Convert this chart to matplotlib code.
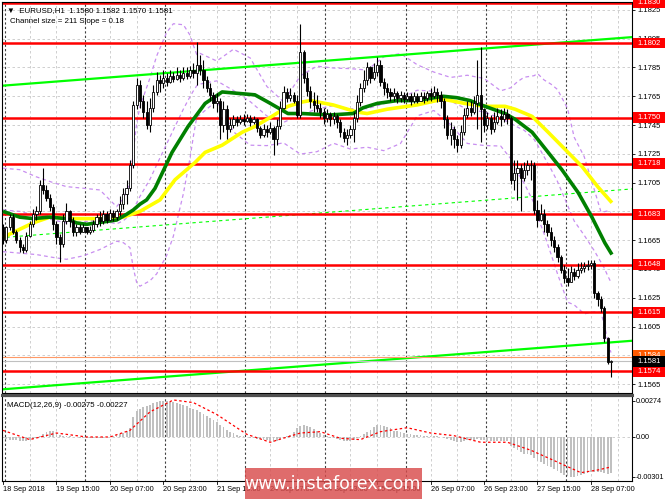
import matplotlib
matplotlib.use('Agg')
import matplotlib.pyplot as plt
import matplotlib.transforms as mtransforms
from matplotlib.patches import Rectangle
from matplotlib.lines import Line2D

plt.rcParams['font.family'] = ['Liberation Sans', 'DejaVu Sans']

# ---------------- data (EURUSD H1) ----------------
opens = [
    1.1674, 1.1665, 1.1674, 1.1681, 1.1671, 1.1665, 1.1660, 1.1658, 1.1668, 1.1676,
    1.1683, 1.1685, 1.1703, 1.1700, 1.1694, 1.1688, 1.1676, 1.1667, 1.1662, 1.1678,
    1.1685, 1.1678, 1.1671, 1.1674, 1.1671, 1.1674, 1.1671, 1.1672, 1.1676, 1.1681,
    1.1678, 1.1683, 1.1679, 1.1684, 1.1681, 1.1685, 1.1690, 1.1697, 1.1701, 1.1717,
    1.1759, 1.1773, 1.1762, 1.1754, 1.1745, 1.1757, 1.1768, 1.1776, 1.1774, 1.1778,
    1.1775, 1.1779, 1.1777, 1.1780, 1.1778, 1.1781, 1.1779, 1.1783, 1.1781, 1.1787,
    1.1783, 1.1776, 1.1771, 1.1766, 1.1760, 1.1762, 1.1745, 1.1756, 1.1742, 1.1745,
    1.1749, 1.1747, 1.1749, 1.1748, 1.1750, 1.1747, 1.1749, 1.1743, 1.1738, 1.1742,
    1.1740, 1.1743, 1.1735, 1.1744, 1.1757, 1.1768, 1.1764, 1.1766, 1.1762, 1.1752,
    1.1796, 1.1778, 1.1769, 1.1762, 1.1759, 1.1757, 1.1754, 1.1750, 1.1753, 1.1749,
    1.1751, 1.1747, 1.1740, 1.1736, 1.1738, 1.1742, 1.1750, 1.1761, 1.1771, 1.1776,
    1.1785, 1.1778, 1.1782, 1.1787, 1.1775, 1.1771, 1.1768, 1.1765, 1.1767, 1.1764,
    1.1766, 1.1763, 1.1765, 1.1762, 1.1765, 1.1762, 1.1765, 1.1764, 1.1767, 1.1765,
    1.1768, 1.1766, 1.1762, 1.1749, 1.1738, 1.1742, 1.1735, 1.1731, 1.1740, 1.1752,
    1.1757, 1.1754, 1.1760, 1.1766, 1.1756, 1.1745, 1.1750, 1.1742, 1.1747, 1.1751,
    1.1749, 1.1753, 1.1750, 1.1707, 1.1712, 1.1715, 1.1708, 1.1714, 1.1717, 1.1717,
    1.1686, 1.1679, 1.1683, 1.1676, 1.1671, 1.1665, 1.1660, 1.1653, 1.1644, 1.1639,
    1.1636, 1.1643, 1.1640, 1.1644, 1.1646, 1.1647, 1.1648, 1.1649, 1.1628, 1.1624,
    1.1618, 1.1597, 1.1580]
highs = [
    1.1676, 1.1675, 1.1683, 1.1683, 1.1672, 1.1667, 1.1662, 1.1671, 1.1678, 1.1687,
    1.1689, 1.1707, 1.1715, 1.1703, 1.1697, 1.1690, 1.1678, 1.1669, 1.1683, 1.1691,
    1.1686, 1.1681, 1.1676, 1.1676, 1.1676, 1.1674, 1.1675, 1.1679, 1.1683, 1.1685,
    1.1686, 1.1685, 1.1687, 1.1686, 1.1687, 1.1696, 1.1701, 1.1707, 1.1721, 1.1762,
    1.1778, 1.1776, 1.1766, 1.1762, 1.1764, 1.1773, 1.1782, 1.1780, 1.1783, 1.1781,
    1.1783, 1.1782, 1.1785, 1.1783, 1.1785, 1.1785, 1.1786, 1.1788, 1.1803, 1.1794,
    1.1790, 1.1779, 1.1774, 1.1768, 1.1767, 1.1764, 1.1762, 1.1759, 1.1750, 1.1752,
    1.1751, 1.1752, 1.1753, 1.1753, 1.1752, 1.1751, 1.1750, 1.1744, 1.1746, 1.1745,
    1.1747, 1.1744, 1.1749, 1.1762, 1.1772, 1.1771, 1.1771, 1.1768, 1.1766, 1.1815,
    1.1797, 1.1782, 1.1772, 1.1768, 1.1766, 1.1760, 1.1757, 1.1756, 1.1754, 1.1754,
    1.1753, 1.1749, 1.1743, 1.1742, 1.1745, 1.1754, 1.1766, 1.1774, 1.1783, 1.1789,
    1.1786, 1.1788, 1.1792, 1.1790, 1.1778, 1.1774, 1.1771, 1.1771, 1.1769, 1.1769,
    1.1768, 1.1768, 1.1767, 1.1768, 1.1767, 1.1768, 1.1768, 1.1769, 1.1771, 1.1772,
    1.1771, 1.1769, 1.1764, 1.1752, 1.1747, 1.1744, 1.1738, 1.1745, 1.1757, 1.1762,
    1.1762, 1.1765, 1.1790, 1.1799, 1.1757, 1.1754, 1.1752, 1.1754, 1.1757, 1.1756,
    1.1757, 1.1756, 1.1751, 1.1721, 1.1721, 1.1718, 1.1719, 1.1721, 1.1721, 1.1719,
    1.1693, 1.1690, 1.1687, 1.1679, 1.1674, 1.1668, 1.1662, 1.1655, 1.1648, 1.1646,
    1.1647, 1.1646, 1.1649, 1.1650, 1.1650, 1.1651, 1.1651, 1.1651, 1.1630, 1.1626,
    1.1619, 1.1598, 1.1582]
lows = [
    1.1662, 1.1663, 1.1672, 1.1669, 1.1663, 1.1657, 1.1656, 1.1657, 1.1667, 1.1674,
    1.1679, 1.1683, 1.1697, 1.1692, 1.1685, 1.1672, 1.1662, 1.1650, 1.1660, 1.1676,
    1.1674, 1.1668, 1.1668, 1.1669, 1.1671, 1.1669, 1.1669, 1.1671, 1.1674, 1.1675,
    1.1676, 1.1677, 1.1678, 1.1678, 1.1679, 1.1682, 1.1687, 1.1690, 1.1699, 1.1715,
    1.1756, 1.1757, 1.1750, 1.1742, 1.1740, 1.1754, 1.1766, 1.1768, 1.1771, 1.1772,
    1.1774, 1.1775, 1.1776, 1.1775, 1.1776, 1.1777, 1.1778, 1.1778, 1.1773, 1.1780,
    1.1771, 1.1768, 1.1762, 1.1757, 1.1754, 1.1735, 1.1740, 1.1735, 1.1740, 1.1743,
    1.1744, 1.1746, 1.1745, 1.1747, 1.1744, 1.1746, 1.1740, 1.1736, 1.1737, 1.1737,
    1.1739, 1.1724, 1.1731, 1.1742, 1.1756, 1.1761, 1.1762, 1.1760, 1.1750, 1.1750,
    1.1774, 1.1765, 1.1757, 1.1754, 1.1754, 1.1750, 1.1746, 1.1747, 1.1744, 1.1746,
    1.1743, 1.1737, 1.1733, 1.1731, 1.1736, 1.1733, 1.1747, 1.1758, 1.1768, 1.1773,
    1.1774, 1.1776, 1.1779, 1.1772, 1.1766, 1.1764, 1.1762, 1.1762, 1.1760, 1.1761,
    1.1760, 1.1762, 1.1759, 1.1760, 1.1760, 1.1762, 1.1760, 1.1762, 1.1762, 1.1764,
    1.1761, 1.1757, 1.1743, 1.1735, 1.1731, 1.1729, 1.1726, 1.1729, 1.1738, 1.1750,
    1.1751, 1.1753, 1.1742, 1.1733, 1.1740, 1.1742, 1.1739, 1.1740, 1.1746, 1.1744,
    1.1747, 1.1746, 1.1704, 1.1700, 1.1693, 1.1685, 1.1706, 1.1710, 1.1707, 1.1683,
    1.1674, 1.1678, 1.1671, 1.1668, 1.1661, 1.1657, 1.1650, 1.1642, 1.1635, 1.1633,
    1.1636, 1.1637, 1.1639, 1.1642, 1.1643, 1.1644, 1.1645, 1.1625, 1.1619, 1.1615,
    1.1594, 1.1579, 1.1570]
closes = [
    1.1665, 1.1674, 1.1681, 1.1671, 1.1665, 1.1660, 1.1658, 1.1668, 1.1676, 1.1683,
    1.1685, 1.1703, 1.1700, 1.1694, 1.1688, 1.1676, 1.1667, 1.1662, 1.1678, 1.1685,
    1.1678, 1.1671, 1.1674, 1.1671, 1.1674, 1.1671, 1.1672, 1.1676, 1.1681, 1.1678,
    1.1683, 1.1679, 1.1684, 1.1681, 1.1685, 1.1690, 1.1697, 1.1701, 1.1717, 1.1759,
    1.1773, 1.1762, 1.1754, 1.1745, 1.1757, 1.1768, 1.1776, 1.1774, 1.1778, 1.1775,
    1.1779, 1.1777, 1.1780, 1.1778, 1.1781, 1.1779, 1.1783, 1.1781, 1.1787, 1.1783,
    1.1776, 1.1771, 1.1766, 1.1760, 1.1762, 1.1745, 1.1756, 1.1742, 1.1745, 1.1749,
    1.1747, 1.1749, 1.1748, 1.1750, 1.1747, 1.1749, 1.1743, 1.1738, 1.1742, 1.1740,
    1.1743, 1.1735, 1.1744, 1.1757, 1.1768, 1.1764, 1.1766, 1.1762, 1.1752, 1.1796,
    1.1778, 1.1769, 1.1762, 1.1759, 1.1757, 1.1754, 1.1750, 1.1753, 1.1749, 1.1751,
    1.1747, 1.1740, 1.1736, 1.1738, 1.1742, 1.1750, 1.1761, 1.1771, 1.1776, 1.1785,
    1.1778, 1.1782, 1.1787, 1.1775, 1.1771, 1.1768, 1.1765, 1.1767, 1.1764, 1.1766,
    1.1763, 1.1765, 1.1762, 1.1765, 1.1762, 1.1765, 1.1764, 1.1767, 1.1765, 1.1768,
    1.1766, 1.1762, 1.1749, 1.1738, 1.1742, 1.1735, 1.1731, 1.1740, 1.1752, 1.1757,
    1.1754, 1.1760, 1.1766, 1.1756, 1.1745, 1.1750, 1.1742, 1.1747, 1.1751, 1.1749,
    1.1753, 1.1750, 1.1707, 1.1712, 1.1715, 1.1708, 1.1714, 1.1717, 1.1717, 1.1686,
    1.1679, 1.1683, 1.1676, 1.1671, 1.1665, 1.1660, 1.1653, 1.1644, 1.1639, 1.1636,
    1.1643, 1.1640, 1.1644, 1.1646, 1.1647, 1.1648, 1.1649, 1.1628, 1.1624, 1.1618,
    1.1597, 1.1580, 1.1581]

# moving averages, bar index -> price
ma_fast_bars = [0, 5, 9, 14, 19, 22, 25, 28, 31, 34, 37, 39, 41, 43, 45.5, 50.6, 55.4, 60.5,
                65.6, 70.4, 75.4, 79.3, 82.3, 85.3, 89.5, 97.9, 104.8, 107.8, 112, 118, 124,
                131.7, 135.9, 139.8, 144.3, 150.3, 153.3, 158.4, 163.2, 167.3, 172.2, 176.3,
                180.2, 182.3]
ma_fast_vals = [1.1685, 1.1681, 1.1680, 1.1681, 1.1680, 1.1677, 1.1676, 1.1677, 1.1678, 1.1679,
                1.1683, 1.1686, 1.1690, 1.1693, 1.1701, 1.1726, 1.1744, 1.1760, 1.1768, 1.1767,
                1.1766, 1.1761, 1.1757, 1.1753, 1.1753, 1.1752, 1.1753, 1.1757, 1.1760, 1.1762,
                1.1762, 1.1765, 1.1764, 1.1762, 1.1758, 1.1753, 1.1749, 1.1740, 1.1726, 1.1714,
                1.1698, 1.1681, 1.1663, 1.1655]
ma_slow_bars = [0, 9, 14, 21, 29, 36, 41, 47, 51.5, 57.5, 60.5, 65.6, 71.6, 75.4, 80.5, 85.3,
                89.5, 92, 98.8, 106, 109, 115, 124, 131.7, 138.3, 144.3, 150.3, 153.3, 158.4,
                163.2, 168.3, 173.4, 178.1, 182.3]
ma_slow_vals = [1.1667, 1.1677, 1.1681, 1.1680, 1.1680, 1.1681, 1.1685, 1.1693, 1.1707, 1.1719,
                1.1726, 1.1731, 1.1740, 1.1744, 1.1751, 1.1758, 1.1761, 1.1762, 1.1759, 1.1754,
                1.1753, 1.1756, 1.1759, 1.1763, 1.1760, 1.1758, 1.1758, 1.1756, 1.1751, 1.1740,
                1.1728, 1.1716, 1.1702, 1.1691]

# Bollinger bands (purple dashed), sampled from the chart
bb_bars = [0, 5, 10, 15, 19, 24, 29, 34, 36, 38, 39, 40, 41, 44, 46, 49, 51, 54, 56, 57,
           58, 59, 64, 69, 74, 79, 84, 89, 94, 99, 104, 109, 114, 119, 124, 129, 134, 139,
           144, 149, 152, 154, 156, 159, 160, 162, 164, 166, 169, 171, 174, 177, 179, 180,
           181, 182]
bb_mid = [1.1686, 1.1685, 1.1682, 1.1679, 1.1677, 1.16776, 1.16792, 1.16763, 1.16785, 1.16824,
          1.16861, 1.16909, 1.16954, 1.17073, 1.17173, 1.17319, 1.17416, 1.17561, 1.17648,
          1.17688, 1.17723, 1.17735, 1.17757, 1.1769, 1.17613, 1.17513, 1.17469, 1.1752,
          1.17562, 1.17585, 1.17563, 1.17564, 1.17598, 1.17635, 1.17692, 1.17685, 1.17617,
          1.17559, 1.17541, 1.17496, 1.17463, 1.17436, 1.17414, 1.1735, 1.17312, 1.17229,
          1.17146, 1.17057, 1.16893, 1.16783, 1.16684, 1.16577, 1.16497, 1.16456, 1.16404,
          1.16357]
bb_upper = [1.1715, 1.1714, 1.1709, 1.1705, 1.17022, 1.17011, 1.16999, 1.16883, 1.16937, 1.1705,
            1.17265, 1.1746, 1.17578, 1.17777, 1.1793, 1.18094, 1.18154, 1.18147, 1.18074,
            1.18003, 1.1794, 1.17948, 1.17895, 1.17977, 1.17916, 1.17718, 1.17611, 1.17792,
            1.17859, 1.17846, 1.17842, 1.17832, 1.17924, 1.17947, 1.17869, 1.17818, 1.17781,
            1.17796, 1.17774, 1.17688, 1.17709, 1.17751, 1.17782, 1.17793, 1.17808, 1.17763,
            1.17735, 1.17697, 1.17565, 1.17365, 1.1723, 1.17002, 1.16847, 1.16848, 1.16853,
            1.16844]
bb_lower = [1.1657, 1.1656, 1.1655, 1.1653, 1.16517, 1.16541, 1.16585, 1.16643, 1.16633, 1.16598,
            1.16457, 1.16357, 1.1633, 1.16368, 1.16416, 1.16544, 1.16678, 1.16974, 1.17222,
            1.17373, 1.17506, 1.17522, 1.17619, 1.17403, 1.1731, 1.17307, 1.17326, 1.17248,
            1.17265, 1.17323, 1.17283, 1.17296, 1.17272, 1.17322, 1.17514, 1.17551, 1.17452,
            1.17322, 1.17308, 1.17304, 1.17216, 1.17121, 1.17046, 1.16906, 1.16816, 1.16694,
            1.16557, 1.16416, 1.1622, 1.162, 1.16138, 1.16152, 1.16147, 1.16063, 1.15955,
            1.15869]

# regression channel (Channel size = 211, Slope = 0.18)
channel_bars = [-1, 190]
channel_upper = [1.17722, 1.18064]
channel_mid = [1.16667, 1.17009]
channel_lower = [1.15612, 1.15954]

levels = [1.1830, 1.1802, 1.1750, 1.1718, 1.1683, 1.1648, 1.1615, 1.1574]
price_ticks = [1.1565, 1.1585, 1.1605, 1.1625, 1.1645, 1.1665, 1.1685, 1.1705, 1.1725,
               1.1745, 1.1765, 1.1785, 1.1805, 1.1825]
last_price = 1.1581
ask_line = 1.1584

time_label_bars = [0, 16, 32, 48, 64, 80, 96, 112, 128, 144, 160, 176]
time_labels = ['18 Sep 2018', '19 Sep 15:00', '20 Sep 07:00', '20 Sep 23:00', '21 Sep 15:00',
               '24 Sep 07:00', '24 Sep 23:00', '25 Sep 15:00', '26 Sep 07:00', '26 Sep 23:00',
               '27 Sep 15:00', '28 Sep 07:00']

macd_hist = [
    -0.00010, -0.00015, -0.00020, -0.00022, -0.00025, -0.00028, -0.00030, -0.00027, -0.00022, -0.00015,
    -0.00008, 0.00005, 0.00020, 0.00035, 0.00048, 0.00045, 0.00032, 0.00015, 0.00008, 0.00006,
    0.00005, 0.00002, 0.00000, -0.00004, -0.00006, -0.00008, -0.00010, -0.00008, -0.00006, -0.00005,
    -0.00004, -0.00003, 0.00000, 0.00005, 0.00012, 0.00020, 0.00030, 0.00045, 0.00070, 0.00150,
    0.00195, 0.00215, 0.00225, 0.00232, 0.00245, 0.00258, 0.00268, 0.00274, 0.00272, 0.00270,
    0.00266, 0.00262, 0.00255, 0.00248, 0.00240, 0.00232, 0.00222, 0.00212, 0.00205, 0.00190,
    0.00175, 0.00160, 0.00145, 0.00128, 0.00112, 0.00090, 0.00075, 0.00055, 0.00040, 0.00028,
    0.00018, 0.00010, 0.00005, 0.00000, -0.00004, -0.00008, -0.00012, -0.00016, -0.00020, -0.00024,
    -0.00028, -0.00035, -0.00030, -0.00018, -0.00005, 0.00005, 0.00015, 0.00040, 0.00065, 0.00085,
    0.00090, 0.00085, 0.00075, 0.00060, 0.00045, 0.00030, 0.00018, 0.00004, -0.00004, -0.00010,
    -0.00016, -0.00022, -0.00028, -0.00030, -0.00028, -0.00022, -0.00010, 0.00005, 0.00020, 0.00035,
    0.00055, 0.00075, 0.00088, 0.00090, 0.00085, 0.00075, 0.00065, 0.00048, 0.00042, 0.00036,
    0.00030, 0.00026, 0.00022, 0.00018, 0.00015, 0.00012, 0.00010, 0.00008, 0.00006, 0.00005,
    0.00004, 0.00002, -0.00005, -0.00015, -0.00022, -0.00030, -0.00038, -0.00036, -0.00028, -0.00024,
    -0.00022, -0.00020, -0.00018, -0.00022, -0.00026, -0.00028, -0.00030, -0.00030, -0.00030, -0.00028,
    -0.00028, -0.00030, -0.00065, -0.00085, -0.00100, -0.00115, -0.00125, -0.00132, -0.00140, -0.00160,
    -0.00180, -0.00192, -0.00205, -0.00218, -0.00230, -0.00245, -0.00258, -0.00270, -0.00285, -0.00295,
    -0.00301, -0.00300, -0.00296, -0.00290, -0.00283, -0.00276, -0.00268, -0.00262, -0.00262, -0.00265,
    -0.00272, -0.00280, -0.00275]
signal_bars = [0, 8, 16, 25, 32, 38, 44, 51, 57, 64, 73, 80, 89, 95, 101, 107, 113, 121, 128,
               135, 143, 151, 158, 166, 173, 178, 182]
signal_vals = [0.0005, -0.0002, 0.0003, 0.0, 0.0, 0.0005, 0.0019, 0.0028, 0.0026, 0.0017, 0.0002,
               -0.0004, 0.0003, 0.0004, -0.0001, -0.0002, 0.0004, 0.0007, 0.0003, 0.0001, -0.0004,
               -0.0004, -0.0010, -0.0019, -0.0027, -0.0025, -0.00227]

# ---------------- figure ----------------
W, H = 665, 499
fig = plt.figure(figsize=(W / 100, H / 100), dpi=100)
fig.patch.set_facecolor('white')


def fx(px):
    return px / W


def fy(py):
    return 1 - py / H


ax = fig.add_axes([fx(2), fy(393), fx(630), 391 / H])
mx = fig.add_axes([fx(2), fy(481), fx(630), 85 / H])

xmin, xmax = -0.3, 188.3
ax.set_xlim(xmin, xmax)
mx.set_xlim(xmin, xmax)
ax.set_ylim(1.15588, 1.18305)
mx.set_ylim(-0.00333, 0.00310)

for a in (ax, mx):
    for s in a.spines.values():
        s.set_color('black')
        s.set_linewidth(0.8)
    a.set_xticks([])

AXFS = 5.5
# grid
grid_c = '#c8c8c8'
for p in price_ticks:
    ax.axhline(p, color=grid_c, lw=0.6, ls=(0, (3, 3)), zorder=0)
for b in range(8, 189, 8):
    if b % 24 != 0:
        for a in (ax, mx):
            a.axvline(b, color=grid_c, lw=0.6, ls=(0, (3, 3)), zorder=0)
for b in range(0, 189, 24):
    for a in (ax, mx):
        a.axvline(b + 0.5, color='#404040', lw=0.8, ls=(0, (2, 2)), zorder=0.5)
mx.axhline(0.0, color=grid_c, lw=0.6, ls=(0, (3, 3)), zorder=0)

# Bollinger bands
for band in (bb_upper, bb_mid, bb_lower):
    ax.plot(bb_bars, band, color='#c88ef0', lw=0.9, ls=(0, (3, 2.5)), zorder=1.5)

# channel lines
ax.plot(channel_bars, channel_upper, color='#00ff00', lw=1.6, zorder=2)
ax.plot(channel_bars, channel_lower, color='#00ff00', lw=1.6, zorder=2)
ax.plot(channel_bars, channel_mid, color='#00ff00', lw=0.8, ls=(0, (3, 3)), zorder=2)

# level lines
for lv in levels:
    ax.axhline(lv, color='#ff0000', lw=1.8, zorder=2.2)
ax.axhline(ask_line, color='#ff9966', lw=0.8, zorder=2.2)
ax.axhline(last_price, color='#c0c0c0', lw=0.8, zorder=2.2)

# moving averages
ax.plot(ma_slow_bars, ma_slow_vals, color='#ffff00', lw=2.6, zorder=3, solid_capstyle='butt')
ax.plot(ma_fast_bars, ma_fast_vals, color='#008000', lw=2.6, zorder=3.1, solid_capstyle='butt')

# candles
n = len(closes)
for i in range(n):
    o, h, l, c = opens[i], highs[i], lows[i], closes[i]
    ax.vlines(i, min(l, o, c), max(h, o, c), color='black', lw=0.8, zorder=4)
    lo, hi = min(o, c), max(o, c)
    if hi - lo < 0.00004:
        ax.hlines(o, i - 0.35, i + 0.35, color='black', lw=0.9, zorder=5)
    else:
        fc = 'white' if c > o else 'black'
        ax.add_patch(Rectangle((i - 0.33, lo), 0.66, hi - lo, facecolor=fc,
                               edgecolor='black', lw=0.6, zorder=5))

# price axis
ax.yaxis.tick_right()
ax.set_yticks(price_ticks)
ax.set_yticklabels(['%.4f' % p for p in price_ticks])
ax.tick_params(axis='y', length=2.5, width=0.6, labelsize=AXFS, pad=1.2, colors='black')

# price labels on the right scale
lab_tr = mtransforms.blended_transform_factory(fig.transFigure, ax.transData)
box_h = 0.00076


def price_label(price, text, fc, z):
    fig.add_artist(Rectangle((fx(633), price - box_h / 2), fx(32), box_h, transform=lab_tr,
                             facecolor=fc, edgecolor='none', zorder=z, clip_on=False))
    t = fig.text(fx(649), price, text, transform=lab_tr, ha='center', va='center',
                 fontsize=AXFS, color='white', zorder=z + 0.1)
    t.set_clip_on(False)


for lv in levels:
    price_label(lv, '%.4f' % lv, '#ff0000', 5)
price_label(ask_line + 0.0001, '%.4f' % ask_line, '#ff5a00', 6)
price_label(last_price, '%.4f' % last_price, 'black', 7)

# header texts
ax.text(0.008, 0.988, '\u25bc  EURUSD,H1  1.1580 1.1582 1.1570 1.1581', transform=ax.transAxes,
        ha='left', va='top', fontsize=5.7, color='black', zorder=12)
ax.text(0.012, 0.958, 'Channel size = 211 Slope = 0.18', transform=ax.transAxes,
        ha='left', va='top', fontsize=5.7, color='black', zorder=12)

# MACD
mx.bar(range(n), macd_hist, width=0.55, color='#c0c0c0', zorder=2)
mx.plot(signal_bars, signal_vals, color='#ff0000', lw=0.9, ls=(0, (2, 2)), zorder=3)
mx.yaxis.tick_right()
mx.set_yticks([0.00274, 0.0, -0.00301])
mx.set_yticklabels(['0.00274', '0.00', '-0.00301'])
mx.tick_params(axis='y', length=2, width=0.6, labelsize=5.2, pad=1)
mx.text(0.008, 0.93, 'MACD(12,26,9) -0.00275 -0.00227', transform=mx.transAxes,
        ha='left', va='top', fontsize=5.7, color='black')

# time labels
for b, t in zip(time_label_bars, time_labels):
    fig.text(fx(3 + 3.34 * b), fy(489.5), t, ha='left', va='center', fontsize=5.3, color='black')
    fig.add_artist(Line2D([fx(3 + 3.34 * b)] * 2, [fy(481), fy(484)], color='black', lw=0.6))

# panel separator
fig.add_artist(Line2D([fx(2), fx(632)], [fy(394.5), fy(394.5)], color='#505050', lw=2.2))

# watermark
fig.add_artist(Rectangle((fx(245), 0), fx(177), 31 / H, transform=fig.transFigure,
                         facecolor='#d94c4c', alpha=0.82, edgecolor='none', zorder=20))
fig.text(fx(333), fy(484), 'www.instaforex.com', ha='center', va='center', fontsize=12.5,
         color='white', zorder=21, family=['DejaVu Sans'])

fig.savefig('out.png', dpi=100, facecolor='white')
